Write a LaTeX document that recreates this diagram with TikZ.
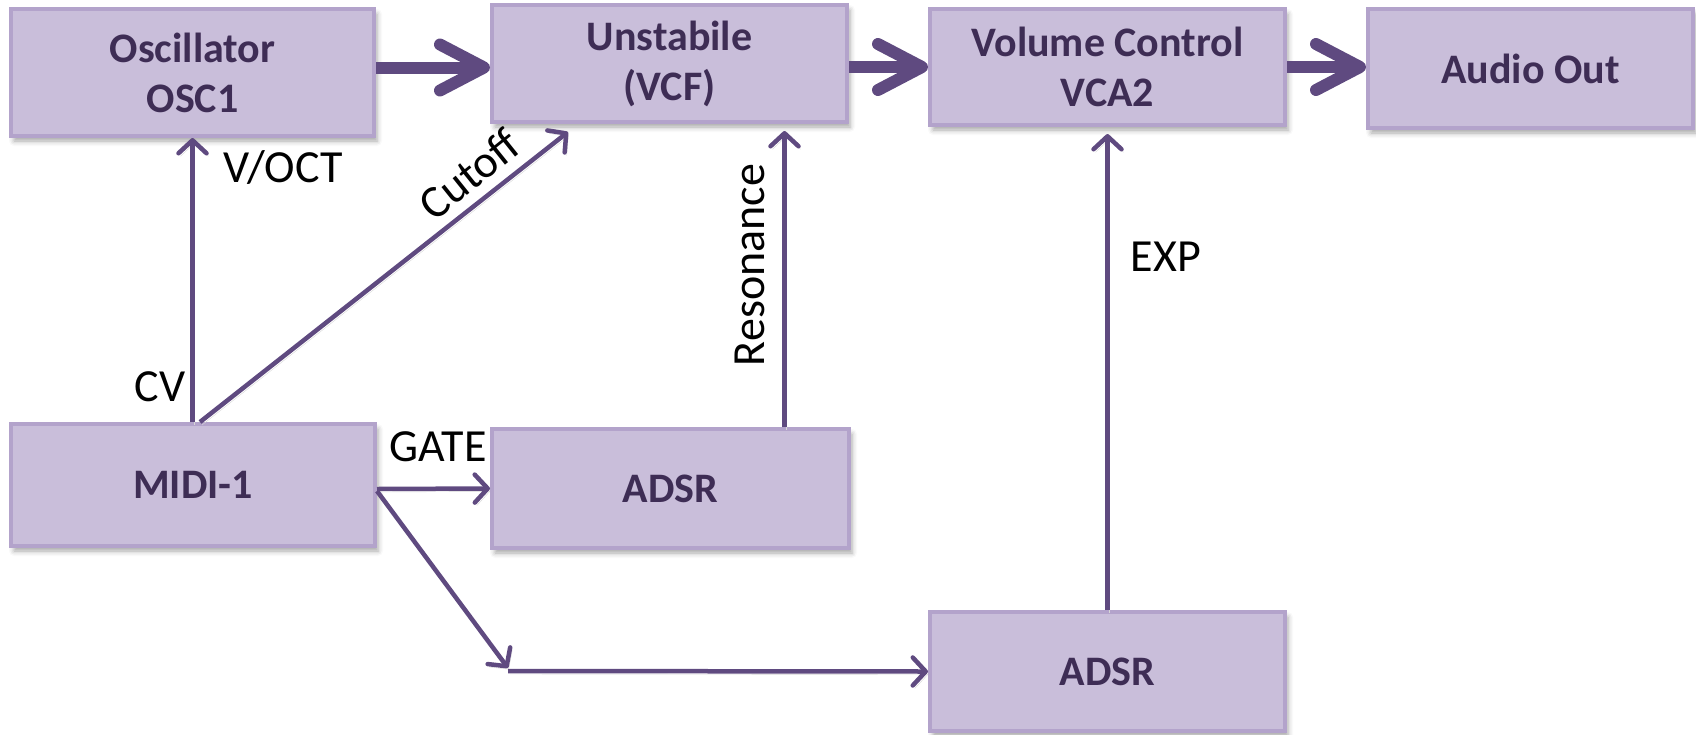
\documentclass[tikz,border=0pt]{standalone}
\usepackage{fontspec}
\setmainfont{Carlito}
\usetikzlibrary{arrows.meta,shadows.blur}
\definecolor{boxfill}{HTML}{C9BEDA}
\definecolor{boxedge}{HTML}{B3A3CB}
\definecolor{boxtext}{HTML}{3E2D55}
\definecolor{arrowc}{HTML}{5F4A80}
\tikzset{
 blk/.style={draw=boxedge, line width=4pt, fill=boxfill, inner sep=0pt, text=boxtext,
   font=\bfseries\fontsize{42}{50}\selectfont, align=center,
   blur shadow={shadow xshift=3pt, shadow yshift=-5pt, shadow blur radius=5pt, shadow opacity=35}},
 lineshadow/.style={preaction={draw=black!16, transform canvas={xshift=2pt,yshift=-3pt}}},
 bigarrow/.style={draw=arrowc, line width=12pt, lineshadow, -{Straight Barb[length=44pt,width=46pt,line cap=round,line join=round]}},
 sig/.style={draw=arrowc, line width=4.5pt, lineshadow, -{Straight Barb[length=13pt,width=28pt,line cap=round,line join=round]}},
 lbl/.style={font=\fontsize{46}{50}\selectfont, inner sep=0pt, text=black},
}
\begin{document}
\begin{tikzpicture}[x=1pt,y=-1pt]
\useasboundingbox (0,0) rectangle (1696,734);
\node[blk, minimum width=363pt, minimum height=127pt] (osc) at (192.5,72.5) {Oscillator\\OSC1};
\node[blk, minimum width=355pt, minimum height=117pt] (vcf) at (669.5,63.5) {Unstabile\\(VCF)};
\node[blk, minimum width=355pt, minimum height=116pt] (vca) at (1107.5,67) {Volume Control\\VCA2};
\node[blk, minimum width=325pt, minimum height=119pt] (out) at (1530.5,68.5) {Audio Out};
\node[blk, minimum width=364pt, minimum height=122pt] (midi) at (193,485) {MIDI-1};
\node[blk, minimum width=357pt, minimum height=119pt] (adsrA) at (670.5,488.5) {ADSR};
\node[blk, minimum width=355pt, minimum height=119pt] (adsrB) at (1107.5,671.5) {ADSR};
\coordinate (knee) at (508,671);

\draw[bigarrow] ([yshift=5pt]osc.east) -- ([yshift=-4pt]vcf.west);
\draw[bigarrow] ([yshift=-3.5pt]vcf.east) -- (vca.west);
\draw[bigarrow] (vca.east) -- ([yshift=1.5pt]out.west);

\draw[sig] (osc.south |- midi.north) -- (osc.south);
\draw[sig] ([xshift=7pt]midi.north) -- ([xshift=-101.5pt,yshift=-8pt]vcf.south);
\draw[sig] ([xshift=114pt]adsrA.north) -- ([xshift=115pt,yshift=-7pt]vcf.south);
\draw[sig] ([yshift=-4pt]midi.east) -- (adsrA.west);
\draw[sig] ([yshift=-6pt]midi.east) -- ([yshift=3pt]knee);
\draw[sig] (knee) -- (adsrB.west);
\draw[sig] (adsrB.north) -- ([yshift=-7pt]vca.south);

\node[lbl] (lvoct) at (283,168) {V/OCT};
\node[lbl] (lcv) at (160,387) {CV};
\node[lbl, rotate=38.7] (lcut) at (469,174) {Cutoff};
\node[lbl, rotate=90] (lres) at (750,265) {Resonance};
\node[lbl] (lgate) at (438,447) {GATE};
\node[lbl] (lexp) at (1166,257) {EXP};
\end{tikzpicture}
\end{document}
